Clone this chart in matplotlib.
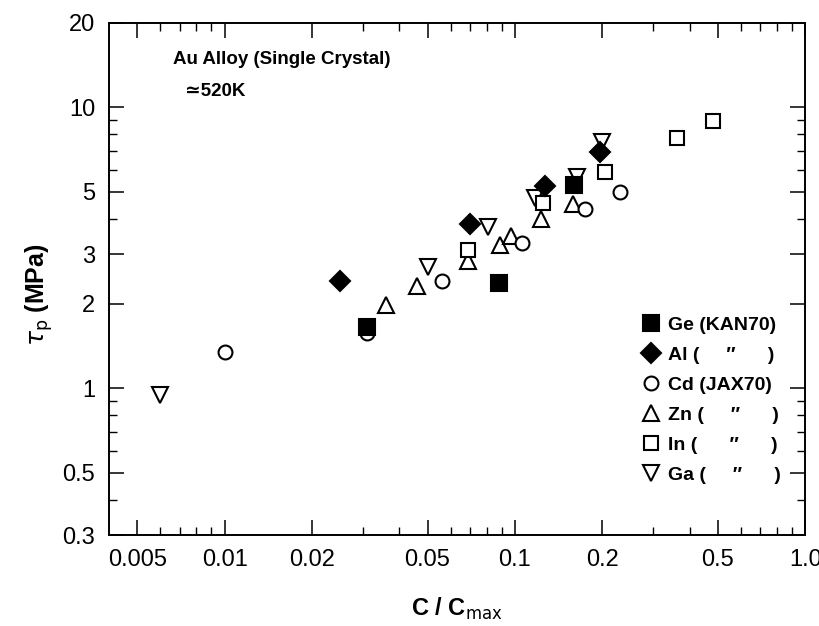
import matplotlib
matplotlib.use("Agg")
import matplotlib.pyplot as plt
from matplotlib.ticker import FixedLocator, FixedFormatter, NullFormatter

plt.rcParams['font.family'] = ['Liberation Sans', 'DejaVu Sans']
plt.rcParams['mathtext.fontset'] = 'dejavusans'

# data (C/Cmax, tau_p in MPa)
ge_x = [0.031, 0.088, 0.160]
ge_y = [1.65, 2.37, 5.29]
al_x = [0.025, 0.070, 0.127, 0.197]
al_y = [2.41, 3.84, 5.24, 6.94]
cd_x = [0.010, 0.031, 0.056, 0.106, 0.175, 0.230]
cd_y = [1.345, 1.57, 2.41, 3.28, 4.33, 5.00]
zn_x = [0.036, 0.046, 0.069, 0.089, 0.097, 0.123, 0.158]
zn_y = [1.98, 2.32, 2.84, 3.23, 3.48, 3.99, 4.51]
in_x = [0.069, 0.125, 0.204, 0.361, 0.481]
in_y = [3.10, 4.57, 5.89, 7.79, 8.95]
ga_x = [0.006, 0.050, 0.081, 0.117, 0.164, 0.199]
ga_y = [0.945, 2.69, 3.74, 4.74, 5.66, 7.52]

x_major = [0.005, 0.01, 0.02, 0.05, 0.1, 0.2, 0.5, 1.0]
x_labels = ['0.005', '0.01', '0.02', '0.05', '0.1', '0.2', '0.5', '1.0']
x_minor = [0.006, 0.007, 0.008, 0.009, 0.03, 0.04, 0.06, 0.07, 0.08, 0.09,
           0.3, 0.4, 0.6, 0.7, 0.8, 0.9]
y_major = [0.3, 0.5, 1, 2, 3, 5, 10, 20]
y_labels = ['0.3', '0.5', '1', '2', '3', '5', '10', '20']
y_minor = [0.4, 0.6, 0.7, 0.8, 0.9, 4, 6, 7, 8, 9]

ditto = '\u2033'
lab_ge = 'Ge (KAN70)'
lab_al = 'Al (     ' + ditto + '      )'
lab_cd = 'Cd (JAX70)'
lab_zn = 'Zn (     ' + ditto + '      )'
lab_in = 'In (      ' + ditto + '      )'
lab_ga = 'Ga (     ' + ditto + '      )'

fig, ax = plt.subplots(figsize=(8.2, 6.26), dpi=100)
fig.subplots_adjust(left=0.133, right=0.982, top=0.964, bottom=0.145)

mew = 1.5
h_ga, = ax.plot(ga_x, ga_y, 'v', ms=11, mfc='white', mec='black', mew=mew, ls='none')
h_zn, = ax.plot(zn_x, zn_y, '^', ms=11, mfc='white', mec='black', mew=mew, ls='none')
h_cd, = ax.plot(cd_x, cd_y, 'o', ms=10, mfc='white', mec='black', mew=mew, ls='none')
h_in, = ax.plot(in_x, in_y, 's', ms=10, mfc='white', mec='black', mew=mew, ls='none')
h_ge, = ax.plot(ge_x, ge_y, 's', ms=11, mfc='black', mec='black', mew=mew, ls='none')
h_al, = ax.plot(al_x, al_y, 'D', ms=10, mfc='black', mec='black', mew=mew, ls='none')

ax.set_xscale('log')
ax.set_yscale('log')
ax.set_xlim(0.004, 1.0)
ax.set_ylim(0.3, 20)

ax.xaxis.set_major_locator(FixedLocator(x_major))
ax.xaxis.set_major_formatter(FixedFormatter(x_labels))
ax.xaxis.set_minor_locator(FixedLocator(x_minor))
ax.xaxis.set_minor_formatter(NullFormatter())
ax.yaxis.set_major_locator(FixedLocator(y_major))
ax.yaxis.set_major_formatter(FixedFormatter(y_labels))
ax.yaxis.set_minor_locator(FixedLocator(y_minor))
ax.yaxis.set_minor_formatter(NullFormatter())

ax.tick_params(which='both', direction='in', top=True, right=True)
ax.tick_params(which='major', length=11, width=1.1, labelsize=17)
ax.tick_params(axis='x', which='major', pad=10)
ax.tick_params(axis='y', which='major', pad=10)
ax.tick_params(which='minor', length=6, width=1.0)
for s in ax.spines.values():
    s.set_linewidth(1.4)

ax.set_xlabel(r'C / C$_{\mathrm{max}}$', fontsize=17, fontweight='bold', labelpad=18)
ax.set_ylabel(r'$\tau_{\mathrm{p}}$ (MPa)', fontsize=18, fontweight='bold')
ax.yaxis.set_label_coords(-0.078, 0.47)

ax.text(0.092, 0.927, 'Au Alloy (Single Crystal)', transform=ax.transAxes,
        fontsize=13.5, fontweight='bold', va='center', ha='left')
ax.text(0.109, 0.866, '\u2243520K', transform=ax.transAxes,
        fontsize=13.5, fontweight='bold', va='center', ha='left')

leg = ax.legend([h_ge, h_al, h_cd, h_zn, h_in, h_ga],
                [lab_ge, lab_al, lab_cd, lab_zn, lab_in, lab_ga],
                loc='center left', bbox_to_anchor=(0.7675, 0.2635),
                frameon=False, handlelength=0.8, handletextpad=0.47,
                labelspacing=0.64, borderpad=0, borderaxespad=0,
                prop={'weight': 'bold', 'size': 14})

fig.savefig('out.png', dpi=100)
